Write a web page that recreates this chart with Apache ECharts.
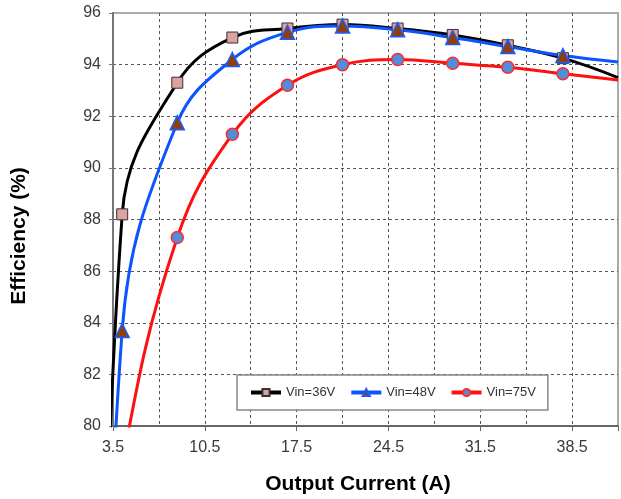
<!DOCTYPE html>
<html>
<head>
<meta charset="utf-8">
<script src="https://cdn.jsdelivr.net/npm/echarts@6/dist/echarts.min.js"></script>
<style>
  html, body { margin: 0; padding: 0; background: #fff; }
  #chart { width: 621px; height: 499px; }
</style>
</head>
<body>
<div id="chart"></div>
<script>
// Output current (A)
const current = [2.1, 4.2, 8.4, 12.6, 16.8, 21.0, 25.2, 29.4, 33.6, 37.8, 42.0];
// Efficiency (%)
const vin36 = [50.0, 88.2, 93.3, 95.05, 95.4, 95.55, 95.4, 95.15, 94.75, 94.25, 93.5];
const vin48 = [48.0, 83.7, 91.75, 94.2, 95.25, 95.5, 95.35, 95.05, 94.7, 94.35, 94.1];
const vin75 = [70.0, 78.5, 87.3, 91.3, 93.2, 94.0, 94.2, 94.05, 93.9, 93.65, 93.4];
const seriesNames = ['Vin=36V', 'Vin=48V', 'Vin=75V'];
const xLabels = [3.5, 10.5, 17.5, 24.5, 31.5, 38.5];

const X_MIN = 3.5, X_MAX = 42;

function build(values) {
  return current.map((x, i) => {
    const item = { value: [x, values[i]] };
    if (x < X_MIN || x >= X_MAX) item.symbol = 'none';
    return item;
  });
}

const chart = echarts.init(document.getElementById('chart'));
const labelStyle = { color: '#3a3a3a', fontSize: 16, fontFamily: 'Liberation Sans, Arial, sans-serif' };
const gridLine = { show: true, showMaxLine: false, lineStyle: { color: '#555', width: 1, type: [3, 3] } };

chart.setOption({
  animation: false,
  backgroundColor: '#fff',
  grid: { left: 113, top: 13, width: 511, bottom: 73, show: true, borderColor: '#aaa', borderWidth: 2 },
  xAxis: [{
    type: 'value', min: X_MIN, max: X_MAX, interval: 3.5,
    axisLine: { show: true, onZero: false, lineStyle: { color: '#666', width: 2 } },
    axisTick: { show: false },
    splitLine: gridLine,
    axisLabel: Object.assign({}, labelStyle, {
      margin: 14,
      formatter: v => xLabels.some(l => Math.abs(l - v) < 1e-6) ? v.toFixed(1) : ''
    })
  }, {
    type: 'value', min: X_MIN, max: X_MAX, interval: 7, position: 'bottom',
    axisLine: { show: false },
    axisTick: { show: true, length: 5, lineStyle: { color: '#666', width: 1 } },
    axisLabel: { show: false },
    splitLine: { show: false }
  }],
  yAxis: {
    type: 'value', min: 80, max: 96, interval: 2,
    axisLine: { show: true, lineStyle: { color: '#777', width: 2 } },
    axisTick: { show: true, length: 4, lineStyle: { color: '#777' } },
    splitLine: gridLine,
    axisLabel: Object.assign({}, labelStyle, { margin: 12 })
  },
  legend: {
    left: 237, top: 375,
    padding: [11, 12],
    itemGap: 14, itemWidth: 30, itemHeight: 9,
    borderColor: '#888', borderWidth: 1.5, backgroundColor: '#fff',
    lineStyle: { width: 4 },
    textStyle: { color: '#333', fontSize: 13, fontFamily: 'Liberation Sans, Arial, sans-serif' },
    data: seriesNames
  },
  graphic: [
    {
      type: 'text', x: 358, y: 484,
      style: { text: 'Output Current (A)', fill: '#000', font: 'bold 21px Liberation Sans, Arial, sans-serif', textAlign: 'center', textVerticalAlign: 'middle' }
    },
    {
      type: 'text', x: 19, y: 236, rotation: Math.PI / 2,
      style: { text: 'Efficiency (%)', fill: '#000', font: 'bold 21px Liberation Sans, Arial, sans-serif', textAlign: 'center', textVerticalAlign: 'middle' }
    }
  ],
  series: [
    {
      name: seriesNames[0], type: 'line', smooth: 0.4, clip: true,
      data: build(vin36),
      lineStyle: { color: '#000', width: 3 },
      symbol: 'rect', symbolSize: 11,
      itemStyle: { color: '#dfa0a0', borderColor: '#333', borderWidth: 1 }
    },
    {
      name: seriesNames[1], type: 'line', smooth: 0.4, clip: true,
      data: build(vin48),
      lineStyle: { color: '#0a55ff', width: 3 },
      symbol: 'triangle', symbolSize: 14,
      itemStyle: { color: '#8f3f0c', borderColor: '#1a5cff', borderWidth: 1.5 }
    },
    {
      name: seriesNames[2], type: 'line', smooth: 0.4, clip: true,
      data: build(vin75),
      lineStyle: { color: '#ff1010', width: 3 },
      symbol: 'circle', symbolSize: 12,
      itemStyle: { color: '#4d8fdc', borderColor: '#ff2a2a', borderWidth: 1.5 }
    }
  ]
});
</script>
</body>
</html>
